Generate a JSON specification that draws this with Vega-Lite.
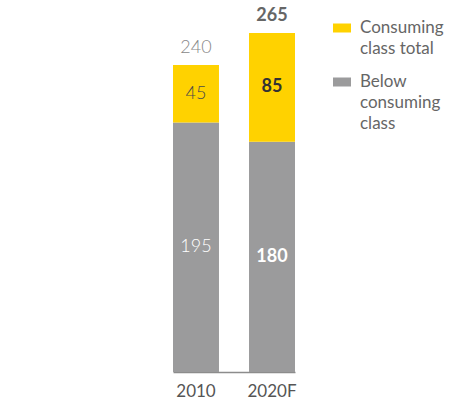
{
  "$schema": "https://vega.github.io/schema/vega-lite/v6.json",
  "autosize": "none",
  "width": 122,
  "height": 339,
  "padding": {"left": 173, "top": 33, "right": 169, "bottom": 33},
  "background": "white",
  "config": {"view": {"stroke": null}, "font": "Lato"},
  "datasets": {
    "segments": [
      {"year": "2010", "segment": "Below consuming class", "value": 195},
      {"year": "2010", "segment": "Consuming class total", "value": 45},
      {"year": "2020F", "segment": "Below consuming class", "value": 180},
      {"year": "2020F", "segment": "Consuming class total", "value": 85}
    ]
  },
  "data": {"name": "segments"},
  "encoding": {
    "x": {
      "field": "year", "type": "nominal", "title": null,
      "scale": {"paddingInner": 0.395, "paddingOuter": 0},
      "axis": {"labelAngle": 0, "domainColor": "#8c8c8c", "domainWidth": 1.5, "ticks": false, "labelFontSize": 17, "labelColor": "#555555", "labelPadding": 11, "labelFont": "Lato"}
    }
  },
  "layer": [
    {
      "mark": {"type": "bar"},
      "encoding": {
        "y": {"field": "value", "type": "quantitative", "stack": "zero", "scale": {"domain": [0, 265], "nice": false}, "axis": null},
        "color": {
          "field": "segment", "type": "nominal",
          "scale": {"domain": ["Consuming class total", "Below consuming class"], "range": ["#FFD200", "#9B9B9C"]},
          "legend": {
            "title": null, "orient": "none", "legendX": 160, "legendY": -14,
            "symbolType": "M-1,-0.5H1V0.5H-1Z", "symbolSize": 324, "symbolStrokeWidth": 0,
            "labelFontSize": 17, "labelColor": "#666666", "labelFont": "Lato", "labelOffset": 9,
            "labelLimit": 200, "rowPadding": 16,
            "labelExpr": "datum.label == 'Consuming class total' ? ['Consuming', 'class total'] : ['Below', 'consuming', 'class']",
            "encode": {"labels": {"update": {"lineHeight": {"value": 21}}}}
          }
        },
        "order": {"field": "segment", "sort": "ascending"}
      }
    },
    {
      "transform": [
        {"stack": "value", "groupby": ["year"], "sort": [{"field": "segment", "order": "ascending"}], "as": ["v0", "v1"]},
        {"calculate": "(datum.v0 + datum.v1) / 2", "as": "mid"},
        {"filter": "datum.year == '2010'"}
      ],
      "mark": {"type": "text", "fontSize": 18, "baseline": "middle", "fontWeight": 300},
      "encoding": {
        "y": {"field": "mid", "type": "quantitative"},
        "text": {"field": "value"},
        "color": {"condition": {"test": "datum.segment == 'Below consuming class'", "value": "white"}, "value": "#4a4a4a"}
      }
    },
    {
      "transform": [
        {"stack": "value", "groupby": ["year"], "sort": [{"field": "segment", "order": "ascending"}], "as": ["v0", "v1"]},
        {"calculate": "(datum.v0 + datum.v1) / 2", "as": "mid"},
        {"filter": "datum.year == '2020F'"}
      ],
      "mark": {"type": "text", "fontSize": 18, "baseline": "middle", "fontWeight": "bold"},
      "encoding": {
        "y": {"field": "mid", "type": "quantitative"},
        "text": {"field": "value"},
        "color": {"condition": {"test": "datum.segment == 'Below consuming class'", "value": "white"}, "value": "#333333"}
      }
    },
    {
      "transform": [
        {"aggregate": [{"op": "sum", "field": "value", "as": "total"}], "groupby": ["year"]},
        {"filter": "datum.year == '2010'"}
      ],
      "mark": {"type": "text", "fontSize": 18, "baseline": "middle", "dy": -17, "fontWeight": 300, "color": "#888888"},
      "encoding": {
        "y": {"field": "total", "type": "quantitative"},
        "text": {"field": "total"}
      }
    },
    {
      "transform": [
        {"aggregate": [{"op": "sum", "field": "value", "as": "total"}], "groupby": ["year"]},
        {"filter": "datum.year == '2020F'"}
      ],
      "mark": {"type": "text", "fontSize": 18, "baseline": "middle", "dy": -17, "fontWeight": "bold", "color": "#666666"},
      "encoding": {
        "y": {"field": "total", "type": "quantitative"},
        "text": {"field": "total"}
      }
    }
  ]
}
